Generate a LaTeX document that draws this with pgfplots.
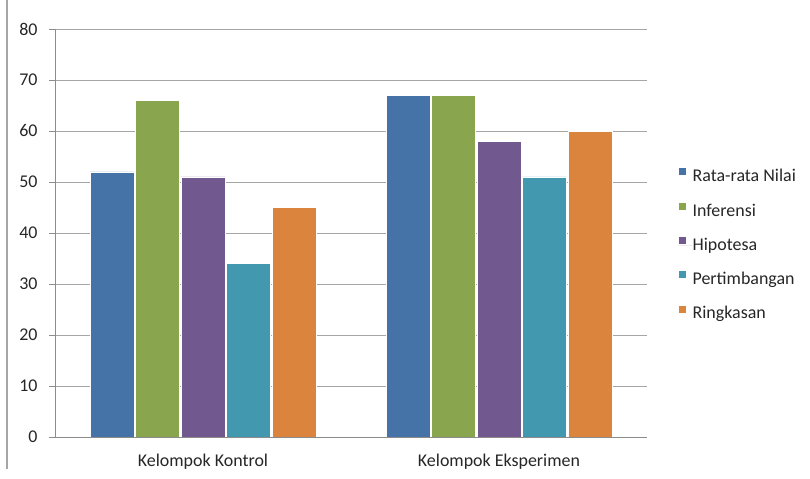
\documentclass[border=0pt]{standalone}
\usepackage{pgfplots}
\pgfplotsset{compat=1.18}
\usepackage{fontspec}
\setmainfont{Carlito}
\definecolor{cA}{HTML}{4572A7}
\definecolor{cB}{HTML}{89A54E}
\definecolor{cC}{HTML}{71588F}
\definecolor{cD}{HTML}{4198AF}
\definecolor{cE}{HTML}{DB843D}
\definecolor{gridc}{HTML}{A6A6A6}
\definecolor{axc}{HTML}{8C8C8C}
\begin{document}
\begin{tikzpicture}
\path[use as bounding box] (0bp,0bp) rectangle (810bp,479bp);
\draw[gridc, line width=1.2bp] (7bp,479bp) -- (7bp,10bp);
\begin{axis}[
  at={(55bp,42bp)}, anchor=south west,
  scale only axis, width=592bp, height=408bp,
  xmin=-0.5, xmax=1.5, ymin=0, ymax=80,
  ytick={0,10,...,80},
  xtick={0,1},
  xticklabels={Kelompok Kontrol, Kelompok Eksperimen},
  axis x line*=bottom, axis y line*=left,
  axis line style={axc, line width=0.8bp, -},
  ymajorgrids, grid style={gridc, line width=0.8bp},
  tick style={axc, line width=0.8bp},
  ytick align=outside, major tick length=6bp,
  x tick style={draw=none},
  extra x ticks={-0.5,0.5,1.5}, extra x tick labels={},
  extra x tick style={tick style={axc, line width=0.8bp}, xtick align=outside, major tick length=6bp},
  tick label style={font=\fontsize{18}{21}\selectfont, text=black!85},
  /pgf/number format/assume math mode=true,
  yticklabel style={xshift=-8bp},
  xticklabel style={yshift=-14bp},
  bar width=0.1486,
  legend style={at={(1,0.47)}, anchor=west, xshift=31bp, draw=none, fill=none,
    inner sep=0pt, outer sep=0pt,
    font=\fontsize{18}{21}\selectfont, row sep=16bp,
    nodes={inner sep=0pt, text height=13bp, text depth=4bp, text=black!85}},
  legend cell align=left,
  legend image code/.code={\fill[#1] (0bp,1.5bp) rectangle (8bp,9.5bp);
    \path (0bp,0bp) -- (14bp,0bp);},
]
\addplot[ybar, fill=cA, draw=white, line width=0.6bp, bar shift=-0.3074] coordinates {(0,52) (1,67)};
\addplot[ybar, fill=cB, draw=white, line width=0.6bp, bar shift=-0.1537] coordinates {(0,66) (1,67)};
\addplot[ybar, fill=cC, draw=white, line width=0.6bp, bar shift=0] coordinates {(0,51) (1,58)};
\addplot[ybar, fill=cD, draw=white, line width=0.6bp, bar shift=0.1537] coordinates {(0,34) (1,51)};
\addplot[ybar, fill=cE, draw=white, line width=0.6bp, bar shift=0.3074] coordinates {(0,45) (1,60)};
\legend{Rata-rata Nilai, Inferensi, Hipotesa, Pertimbangan, Ringkasan}
\end{axis}
\end{tikzpicture}
\end{document}
